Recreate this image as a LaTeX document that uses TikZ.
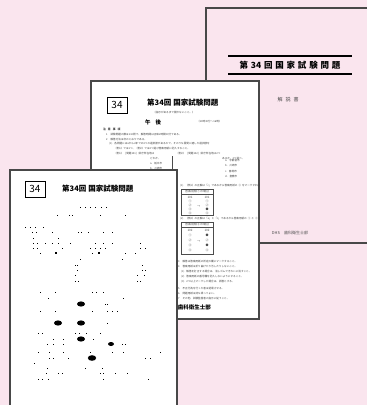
\documentclass[tikz,border=0pt]{standalone}
\usepackage{fontspec}
\newfontfamily\jp{Noto Sans CJK JP}
\usetikzlibrary{positioning}

\definecolor{sheetpink}{RGB}{250,229,238}
\definecolor{edgegray}{RGB}{72,72,72}
\newcommand{\minitxt}{\jp\fontsize{2.6}{3}\selectfont}

\begin{document}
\begin{tikzpicture}[x=1pt, y=-1pt, font=\jp]
    \tikzstyle{sheet}=[draw=edgegray, line width=1.1pt]
    \tikzstyle{small}=[font=\minitxt, text=black!75, inner sep=0pt, anchor=west]
    \tikzstyle{numbox}=[draw, line width=0.6pt, inner sep=0pt, minimum width=20pt, minimum height=16pt, font=\jp\fontsize{10}{10}\selectfont]
    \tikzstyle{bub}=[inner sep=0pt, font=\jp\fontsize{3}{3}\selectfont, text=black!70]
    \tikzstyle{speck}=[fill=black, draw=none]

    \useasboundingbox (0,0) rectangle (367,405);
    \fill[sheetpink] (0,0) rectangle (367,405);
    \clip (0,0) rectangle (367,405);

    % Hinterste Seite
    \filldraw[sheet, fill=sheetpink] (206,8) rectangle (372,243);
    \draw[line width=1.6pt] (228,56) -- (352,56);
    \draw[line width=1.6pt] (228,74) -- (352,74);
    \node[font=\jp\bfseries\fontsize{8.5}{9}\selectfont] (covertitle) at (290,65)
        {第\hspace{2.8pt}34\hspace{2.8pt}回\hspace{2.8pt}国\hspace{2.8pt}家\hspace{2.8pt}試\hspace{2.8pt}験\hspace{2.8pt}問\hspace{2.8pt}題};
    \node[font=\jp\fontsize{5}{5}\selectfont, text=black!70] (kaisetsu) at (288,100) {解\hspace{3pt}説\hspace{3pt}書};
    \node[font=\jp\fontsize{4}{4}\selectfont, text=black!70] (dhs) at (290,233) {DHS\hspace{4pt}歯科衛生士部};

    % Mittlere Seite
    \filldraw[sheet, fill=white] (91,81) rectangle (259,319);
    \begin{scope}
        \clip (91,81) rectangle (259,319);
        \node[numbox] (num1) at (117,105) {34};
        \node[anchor=west, inner sep=0pt, font=\jp\bfseries\fontsize{7.5}{8}\selectfont] (title1) at (147,103) {第34回\hspace{2pt}国家試験問題};
        \node[small] (hint1) at (153,113) {（指示があるまで開かないこと。）};
        \node[anchor=west, inner sep=0pt, font=\jp\bfseries\fontsize{5.5}{6}\selectfont] (pm1) at (145,122) {午\hspace{5pt}後};
        \node[small] (time1) at (197,122) {（13時30分～16時）};
        \node[small, font=\jp\bfseries\fontsize{2.8}{3}\selectfont] (notes1) at (103,129) {注\hspace{2pt}意\hspace{2pt}事\hspace{2pt}項};
        \node[small] (l1) at (106,134) {1\hspace{3pt}試験問題の数は110問で、解答時間は正味2時間30分である。};
        \node[small] (l2) at (106,139) {2\hspace{3pt}解答方法は次のとおりである。};
        \node[small] (l3) at (109,144) {(1)\hspace{2pt}各問題にはaからdまでの4つの選択肢があるので、そのうち質問に適した選択肢を};
        \node[small] (l4) at (114,149) {（例1）では1つ、（例2）では2つ選び答案用紙に記入すること。};
        \node[small] (l5) at (114,154) {（例1）\hspace{2pt}[問題101]\hspace{2pt}県庁所在地は};
        \node[small] (l6) at (176,154) {（例2）\hspace{2pt}[問題102]\hspace{2pt}県庁所在地は2つ};
        \node[small] (l7) at (150,159) {どれか。};
        \node[small] (l8) at (222,159) {あるか。2つ選べ。};
        \node[small] (o1) at (150,164) {a.\hspace{2pt}栃木市};
        \node[small] (o2) at (150,169) {b.\hspace{2pt}川崎市};
        \node[small] (o3) at (225,161) {a.\hspace{2pt}宇都宮市};
        \node[small] (o4) at (225,166) {b.\hspace{2pt}川崎市};
        \node[small] (o5) at (225,172) {c.\hspace{2pt}静岡市};
        \node[small] (o6) at (225,177) {d.\hspace{2pt}倉敷市};
        \draw[black!70, line width=0.4pt] (172,156) -- (172,186);

        % Beispiel 1
        \node[small] (ex1) at (180,186) {(1)\hspace{2pt}（例1）の正解は「c」であるから答案用紙の\hspace{1pt}③\hspace{1pt}をマークすればよい。};
        \draw[black!70, line width=0.3pt] (181,189) rectangle (213,215);
        \draw[black!70, line width=0.2pt] (181,194) -- (213,194);
        \node[bub] (h1) at (197,191.5) {答案用紙①の場合};
        \node[bub] (c1) at (190,197) {101};
        \node[bub] (c2) at (207,197) {101};
        \foreach \yy/\dd in {201/①, 205/②, 209/③, 213/④}
            \node[bub] (a\yy) at (190,\yy) {\dd};
        \foreach \yy/\dd in {201/①, 205/②, 209/●, 213/④}
            \node[bub] (b\yy) at (207,\yy) {\dd};
        \node[bub] (arr1) at (198.5,207) {→};

        % Beispiel 2
        \node[small] (ex2) at (180,219) {(2)\hspace{2pt}（例2）の正解は「a」と「c」であるから答案用紙の\hspace{1pt}①\hspace{1pt}と\hspace{1pt}③\hspace{1pt}をマークすればよい。};
        \draw[black!70, line width=0.3pt] (181,222) rectangle (213,254);
        \draw[black!70, line width=0.2pt] (181,227) -- (213,227);
        \node[bub] (h2) at (197,224.5) {答案用紙②の場合};
        \node[bub] (d1) at (190,230) {102};
        \node[bub] (d2) at (207,230) {102};
        \foreach \yy/\dd in {235/①, 240/②, 245/③, 250/④}
            \node[bub] (e\yy) at (190,\yy) {\dd};
        \foreach \yy/\dd in {235/●, 240/②, 245/●, 250/④}
            \node[bub] (f\yy) at (207,\yy) {\dd};
        \node[bub] (arr2) at (198.5,242) {→};

        % Schluss
        \node[small] (m1) at (178,262) {3\hspace{3pt}解答は答案用紙の所定の欄にマークすること。};
        \node[small] (m2) at (178,267) {4\hspace{3pt}答案用紙は折り曲げたり汚したりしないこと。};
        \node[small] (m3) at (181,272) {(1)\hspace{2pt}解答を訂正する場合は、消しゴムできれいに消すこと。};
        \node[small] (m4) at (181,277) {(2)\hspace{2pt}答案用紙の番号欄を記入しないようにすること。};
        \node[small] (m5) at (181,282) {(3)\hspace{2pt}2つ以上マークした場合は、誤答とする。};
        \node[small] (m6) at (178,289) {5\hspace{3pt}不正行為を行った者は退場させる。};
        \node[small] (m7) at (178,294) {6\hspace{3pt}問題用紙は持ち帰ってよい。};
        \node[small] (m8) at (178,299) {7\hspace{3pt}その他、試験監督者の指示に従うこと。};
        \node[anchor=east, inner sep=0pt, font=\jp\bfseries\fontsize{5.5}{6}\selectfont] (dept1) at (211,307) {歯科衛生士部};
    \end{scope}

    % Vordere Seite
    \filldraw[sheet, fill=white] (10,170) rectangle (177,412);
    \node[numbox] (num2) at (35,189) {34};
    \node[anchor=west, inner sep=0pt, font=\jp\bfseries\fontsize{7.5}{8}\selectfont] (title2) at (62,189) {第34回\hspace{2pt}国家試験問題};

    % Flecken
    \foreach \px/\py in {80/207, 85/207, 90/207, 95/207, 101/207, 106/207,
        57/215, 69/215, 72/215, 100/215, 125/215,
        25/227, 30/227, 35/227, 43/227,
        32/232, 36/232, 52/232, 78/232, 81/232, 88/232, 103/232, 112/232,
        33/238, 58/238,
        33/243, 37/243, 45/243, 52/243, 58/243, 70/243, 95/243, 103/243, 112/243, 140/243,
        33/248, 37/248, 62/248, 90/248, 95/248, 100/248, 105/248, 140/248, 145/248,
        40/253, 92/253, 125/253, 135/253,
        80/259, 122/259, 75/265, 77/265, 142/265,
        77/270, 142/270, 145/270, 75/275, 137/275, 144/275,
        75/281, 78/281, 137/281, 140/281,
        40/292, 55/292, 92/292, 96/292, 103/292, 48/298, 123/298,
        105/304, 107/304, 40/311, 55/311, 92/311, 107/311, 112/311, 117/311,
        107/323, 38/333, 42/333, 75/333, 79/333, 86/333, 100/333,
        53/339, 63/339, 93/339, 47/344, 53/344, 63/344, 122/344, 125/344,
        38/352, 49/352, 63/352, 90/352, 112/352, 123/352, 160/352,
        49/358, 53/358, 68/358, 145/358, 150/358, 34/363,
        47/368, 85/368, 102/368, 46/373, 58/373, 62/373, 100/373, 103/373, 115/373, 127/373,
        38/379, 42/379, 48/379, 103/379, 148/379}
        \fill[speck] (\px,\py) rectangle ++(1.3,1.1);
    \fill[speck] (55,252) rectangle ++(2.2,1.8);
    \fill[speck] (98,252) rectangle ++(2.2,1.8);
    \fill[speck] (81,304) ellipse (4 and 2.6);
    \fill[speck] (58,323) ellipse (4 and 2.6);
    \fill[speck] (81,323) ellipse (4 and 2.6);
    \fill[speck] (81,339) ellipse (4 and 2.6);
    \fill[speck] (111,344) ellipse (3 and 2);
    \fill[speck] (92,358) ellipse (4.2 and 2.8);
\end{tikzpicture}
\end{document}
